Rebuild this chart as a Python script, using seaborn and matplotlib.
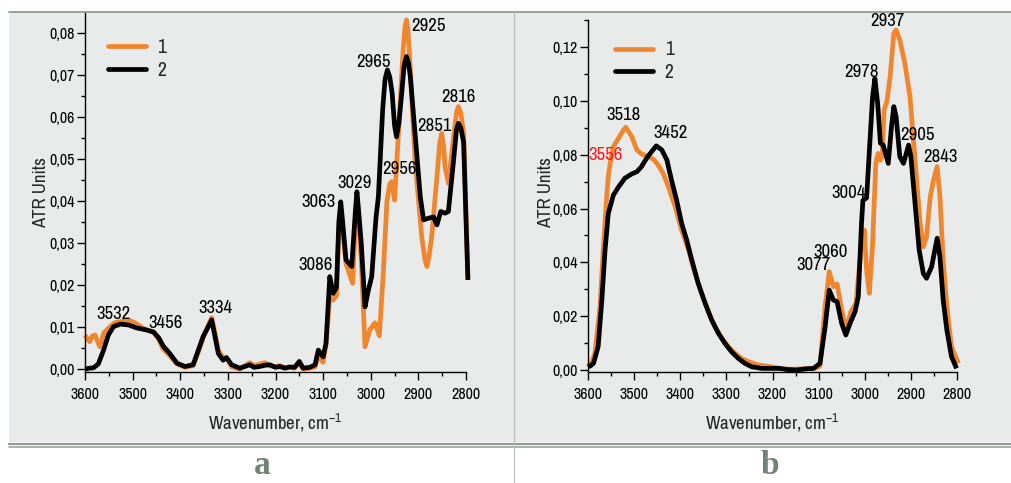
import numpy as np
import pandas as pd
import matplotlib
matplotlib.use("Agg")
import matplotlib.pyplot as plt
import seaborn as sns
from matplotlib import font_manager as fm
from matplotlib.patches import Rectangle
from matplotlib.lines import Line2D
from matplotlib.ticker import MultipleLocator, FuncFormatter

# ---- spectra, panel a ----
a_wn_1 = [3600, 3595, 3590, 3585, 3579, 3569, 3561, 3551, 3538, 3530, 3509, 3495, 3475, 3456,
          3445, 3436, 3422, 3407, 3390, 3373, 3362, 3352, 3341, 3334, 3327, 3320, 3310, 3303,
          3292, 3275, 3254, 3245, 3233, 3222, 3212, 3200, 3191, 3180, 3170, 3160, 3150, 3142,
          3128, 3117, 3110, 3100, 3094, 3086, 3079, 3072, 3067, 3063, 3059, 3052, 3038, 3032,
          3029, 3025, 3020, 3012, 3002, 2991, 2982, 2974, 2966, 2960, 2956, 2950, 2939, 2932,
          2928, 2925, 2922, 2918, 2907, 2893, 2886, 2882, 2878, 2872, 2861, 2855, 2851, 2847,
          2844, 2837, 2826, 2820, 2816, 2811, 2805, 2796]
a_ab_1 = [0.0081, 0.0072, 0.0065, 0.0078, 0.0081, 0.0053, 0.0085, 0.0097, 0.0110, 0.0112,
          0.0117, 0.0110, 0.0095, 0.0088, 0.0070, 0.0048, 0.0032, 0.0012, 0.0004, 0.0008,
          0.0040, 0.0075, 0.0105, 0.0122, 0.0085, 0.0045, 0.0025, 0.0028, 0.0005, 0.0000,
          0.0015, 0.0008, 0.0012, 0.0015, 0.0008, 0.0006, 0.0008, 0.0003, 0.0004, 0.0002,
          0.0015, 0.0000, 0.0002, 0.0005, 0.0030, 0.0016, 0.0060, 0.0170, 0.0164, 0.0175,
          0.0330, 0.0380, 0.0330, 0.0251, 0.0204, 0.0360, 0.0410, 0.0350, 0.0260, 0.0053,
          0.0093, 0.0110, 0.0079, 0.0222, 0.0400, 0.0440, 0.0446, 0.0402, 0.0617, 0.0760,
          0.0815, 0.0831, 0.0810, 0.0736, 0.0498, 0.0315, 0.0260, 0.0244, 0.0265, 0.0315,
          0.0458, 0.0540, 0.0561, 0.0530, 0.0482, 0.0442, 0.0553, 0.0610, 0.0625, 0.0610,
          0.0561, 0.0218]

a_wn_2 = [3600, 3590, 3582, 3572, 3561, 3551, 3540, 3526, 3509, 3492, 3471, 3456, 3445, 3436,
          3422, 3407, 3390, 3378, 3373, 3362, 3352, 3341, 3334, 3327, 3320, 3310, 3303, 3292,
          3275, 3254, 3245, 3233, 3222, 3212, 3200, 3191, 3180, 3170, 3160, 3150, 3142, 3128,
          3117, 3110, 3100, 3094, 3086, 3079, 3072, 3067, 3063, 3059, 3052, 3040, 3032, 3029,
          3025, 3020, 3012, 3005, 2998, 2989, 2984, 2975, 2970, 2965, 2960, 2955, 2950, 2946,
          2941, 2935, 2930, 2925, 2921, 2917, 2907, 2896, 2889, 2879, 2868, 2861, 2853, 2844,
          2837, 2826, 2820, 2816, 2811, 2805, 2796]
a_ab_2 = [0.0000, 0.0002, 0.0003, 0.0012, 0.0045, 0.0081, 0.0101, 0.0107, 0.0105, 0.0098,
          0.0093, 0.0088, 0.0074, 0.0055, 0.0037, 0.0014, 0.0006, 0.0009, 0.0010, 0.0045,
          0.0077, 0.0101, 0.0117, 0.0077, 0.0037, 0.0021, 0.0027, 0.0010, 0.0002, 0.0010,
          0.0004, 0.0006, 0.0009, 0.0010, 0.0004, 0.0006, 0.0002, 0.0005, 0.0004, 0.0018,
          0.0002, 0.0004, 0.0010, 0.0045, 0.0029, 0.0060, 0.0220, 0.0180, 0.0194, 0.0350,
          0.0398, 0.0350, 0.0260, 0.0244, 0.0380, 0.0422, 0.0370, 0.0300, 0.0148, 0.0188,
          0.0220, 0.0360, 0.0410, 0.0617, 0.0690, 0.0712, 0.0695, 0.0656, 0.0580, 0.0553,
          0.0585, 0.0656, 0.0722, 0.0744, 0.0730, 0.0697, 0.0561, 0.0410, 0.0355, 0.0359,
          0.0362, 0.0343, 0.0375, 0.0371, 0.0375, 0.0498, 0.0570, 0.0585, 0.0575, 0.0540,
          0.0212]

# ---- spectra, panel b ----
b_wn_1 = [3600, 3592, 3585, 3574, 3567, 3560, 3556, 3552, 3545, 3534, 3523, 3518, 3505, 3494,
          3484, 3469, 3458, 3448, 3437, 3426, 3411, 3397, 3382, 3368, 3354, 3339, 3325, 3310,
          3296, 3281, 3267, 3252, 3231, 3202, 3180, 3160, 3140, 3120, 3105, 3097, 3086, 3077,
          3068, 3060, 3050, 3041, 3030, 3019, 3007, 3001, 2996, 2990, 2983, 2976, 2971, 2966,
          2962, 2958, 2952, 2945, 2937, 2932, 2924, 2913, 2902, 2895, 2887, 2880, 2873, 2866,
          2858, 2851, 2843, 2837, 2830, 2822, 2812, 2797]
b_ab_1 = [0.0012, 0.0030, 0.0062, 0.0235, 0.0446, 0.0632, 0.0720, 0.0768, 0.0830, 0.0861,
          0.0892, 0.0902, 0.0867, 0.0818, 0.0803, 0.0793, 0.0783, 0.0762, 0.0731, 0.0682,
          0.0607, 0.0520, 0.0446, 0.0359, 0.0285, 0.0217, 0.0161, 0.0118, 0.0087, 0.0062,
          0.0043, 0.0031, 0.0019, 0.0012, 0.0005, 0.0003, 0.0004, 0.0006, 0.0008, 0.0015,
          0.0235, 0.0366, 0.0310, 0.0320, 0.0223, 0.0149, 0.0217, 0.0248, 0.0470, 0.0520,
          0.0372, 0.0285, 0.0470, 0.0768, 0.0805, 0.0780, 0.0800, 0.0967, 0.0998, 0.1090,
          0.1252, 0.1264, 0.1227, 0.1140, 0.1016, 0.0867, 0.0694, 0.0545, 0.0458, 0.0496,
          0.0644, 0.0706, 0.0756, 0.0644, 0.0409, 0.0235, 0.0087, 0.0025]

b_wn_2 = [3600, 3595, 3588, 3578, 3570, 3563, 3556, 3545, 3534, 3520, 3505, 3494, 3484, 3473,
          3462, 3452, 3440, 3429, 3419, 3408, 3397, 3386, 3375, 3361, 3346, 3332, 3317, 3303,
          3289, 3274, 3260, 3245, 3223, 3202, 3184, 3170, 3148, 3130, 3111, 3097, 3086, 3077,
          3068, 3060, 3050, 3041, 3032, 3021, 3014, 3007, 3004, 2996, 2989, 2983, 2978, 2972,
          2966, 2960, 2949, 2942, 2937, 2932, 2924, 2916, 2905, 2900, 2891, 2882, 2873, 2866,
          2855, 2843, 2837, 2830, 2822, 2812, 2801]
b_ab_2 = [0.0012, 0.0015, 0.0025, 0.0087, 0.0260, 0.0446, 0.0582, 0.0650, 0.0680, 0.0713,
          0.0729, 0.0737, 0.0756, 0.0787, 0.0812, 0.0833, 0.0818, 0.0781, 0.0706, 0.0632,
          0.0545, 0.0483, 0.0409, 0.0322, 0.0248, 0.0186, 0.0136, 0.0099, 0.0068, 0.0043,
          0.0025, 0.0012, 0.0006, 0.0006, 0.0006, 0.0002, 0.0000, 0.0004, 0.0006, 0.0025,
          0.0160, 0.0297, 0.0260, 0.0254, 0.0173, 0.0130, 0.0173, 0.0217, 0.0273, 0.0545,
          0.0630, 0.0640, 0.0843, 0.1016, 0.1084, 0.0991, 0.0843, 0.0836, 0.0768, 0.0905,
          0.0979, 0.0942, 0.0793, 0.0768, 0.0836, 0.0793, 0.0620, 0.0446, 0.0359, 0.0341,
          0.0384, 0.0490, 0.0421, 0.0260, 0.0149, 0.0050, 0.0006]

# peak annotations: (text, x, y, colour)
a_peaks = [("3532", 3541, 0.0131, "black"), ("3456", 3430, 0.01095, "black"),
           ("3334", 3327, 0.01452, "black"), ("3086", 3115, 0.02476, "black"),
           ("3063", 3109, 0.03976, "black"), ("3029", 3035, 0.04429, "black"),
           ("2965", 2995, 0.0731, "black"), ("2925", 2878, 0.08167, "black"),
           ("2956", 2939, 0.04762, "black"), ("2851", 2867, 0.05786, "black"),
           ("2816", 2815, 0.06476, "black")]
b_peaks = [("3518", 3524, 0.0948, "black"), ("3452", 3422, 0.0881, "black"),
           ("3556", 3561, 0.0799, "#ff1a1a"), ("3077", 3112, 0.0390, "black"),
           ("3060", 3075, 0.0439, "black"), ("3004", 3036, 0.0658, "black"),
           ("2978", 3008, 0.1108, "black"), ("2937", 2950, 0.1297, "black"),
           ("2905", 2885, 0.0874, "black"), ("2843", 2835, 0.0792, "black")]

series_labels = ["1", "2"]
panel_letters = ["a", "b"]

ORANGE = "#f0862e"
FRAME = "#8f9c93"

sns.set_theme(style="ticks")

# pick a narrow sans face for all chart text
_available = {f.name for f in fm.fontManager.ttflist}
_narrow = ["Liberation Sans Narrow", "Arial Narrow", "Archivo Narrow", "PT Sans Narrow",
           "Roboto Condensed", "Open Sans Condensed", "IBM Plex Sans Condensed",
           "Fira Sans Condensed", "Barlow Semi Condensed", "Encode Sans Condensed"]
_face = next((n for n in _narrow if n in _available), "DejaVu Sans")
plt.rcParams["font.family"] = [_face, "DejaVu Sans"]
plt.rcParams["mathtext.fontset"] = "custom"
plt.rcParams["mathtext.rm"] = _face
plt.rcParams["mathtext.it"] = _face
plt.rcParams["mathtext.bf"] = _face

W, H = 1011, 483
fig = plt.figure(figsize=(W / 100, H / 100), dpi=100)
fig.patch.set_facecolor("white")


def fx(px):
    return px / W


def fy(py):
    return 1 - py / H


# shaded panel background and frame rules
fig.patches.append(Rectangle((fx(9), fy(442)), 1 - fx(9), fy(12) - fy(442),
                             transform=fig.transFigure, facecolor="#e9eaea",
                             edgecolor="none", zorder=-5))
fig.add_artist(Line2D([fx(9), 1], [fy(12), fy(12)], color=FRAME, lw=1.3, zorder=-4))
fig.add_artist(Line2D([fx(9), 1], [fy(443.5), fy(443.5)], color=FRAME, lw=1.6, zorder=-4))
fig.add_artist(Line2D([fx(9), 1], [fy(447.2), fy(447.2)], color=FRAME, lw=1.1, zorder=-4))
fig.add_artist(Line2D([fx(514), fx(514)], [fy(12.5), 0], color="#b9c1bc", lw=0.9, zorder=-4))

panels = [
    dict(left=85, right=466, top=13, bottom=372, ylim=(-0.00071, 0.08476),
         ymaj=0.01, ymin=0.005, data=[(a_wn_1, a_ab_1), (a_wn_2, a_ab_2)],
         peaks=a_peaks, leg=(0.06, 0.93), ylab=(-0.094, 0.501), xlab=(0.5, -0.112),
         letter_x=262),
    dict(left=588, right=957, top=20, bottom=372, ylim=(-0.00074, 0.1301),
         ymaj=0.02, ymin=0.01, data=[(b_wn_1, b_ab_1), (b_wn_2, b_ab_2)],
         peaks=b_peaks, leg=(0.073, 0.942), ylab=(-0.092, 0.511), xlab=(0.5, -0.114),
         letter_x=770),
]

colors = [ORANGE, "black"]

for k, p in enumerate(panels):
    ax = fig.add_axes([fx(p["left"]), fy(p["bottom"]), fx(p["right"]) - fx(p["left"]),
                       fy(p["top"]) - fy(p["bottom"])])
    ax.set_zorder(5)
    ax.set_facecolor("none")
    frames = []
    for (wn, ab), lab in zip(p["data"], series_labels):
        frames.append(pd.DataFrame({"wn": wn, "ab": ab, "series": lab}))
    df = pd.concat(frames, ignore_index=True)
    sns.lineplot(data=df, x="wn", y="ab", hue="series", palette=colors,
                 hue_order=series_labels, lw=3.4, sort=True, estimator=None,
                 ax=ax, legend=False)
    for ln in ax.lines:
        ln.set_clip_on(False)
        ln.set_solid_capstyle("butt")
        ln.set_solid_joinstyle("round")

    ax.set_xlim(3600, 2800)
    ax.set_ylim(*p["ylim"])
    sns.despine(ax=ax)
    for s in ("left", "bottom"):
        ax.spines[s].set_linewidth(1.0)
        ax.spines[s].set_color("black")

    ax.xaxis.set_major_locator(MultipleLocator(100))
    ax.xaxis.set_minor_locator(MultipleLocator(50))
    ax.yaxis.set_major_locator(MultipleLocator(p["ymaj"]))
    ax.yaxis.set_minor_locator(MultipleLocator(p["ymin"]))
    ax.xaxis.set_major_formatter(FuncFormatter(lambda v, _: f"{v:.0f}"))
    ax.yaxis.set_major_formatter(FuncFormatter(lambda v, _: f"{v:.2f}".replace(".", ",")))
    ax.tick_params(which="major", direction="out", length=5.5, width=1.0,
                   colors="black", labelsize=11.5, pad=2)
    ax.tick_params(axis="x", which="major", pad=5)
    ax.tick_params(which="minor", direction="out", length=3, width=1.0, colors="black")

    ax.set_xlabel("Wavenumber, cm$^{-1}$", fontsize=13.5)
    ax.set_ylabel("ATR Units", fontsize=13.5)
    ax.xaxis.set_label_coords(*p["xlab"])
    ax.yaxis.set_label_coords(*p["ylab"])

    for txt, x, y, c in p["peaks"]:
        ax.text(x, y, txt, ha="center", va="center", fontsize=13.5, color=c)

    handles = [Line2D([], [], color=c, lw=3.4) for c in colors]
    ax.legend(handles, series_labels, loc="upper left", bbox_to_anchor=p["leg"],
              frameon=False, fontsize=14, handlelength=1.95, handletextpad=0.6,
              labelspacing=0.2, borderaxespad=0.0, borderpad=0.0)

    fig.text(fx(p["letter_x"]), fy(466), panel_letters[k], ha="center", va="center",
             fontsize=24, fontweight="bold", color="#6f8474",
             family=["Liberation Serif", "DejaVu Serif"])

fig.savefig("out.png", dpi=100)
